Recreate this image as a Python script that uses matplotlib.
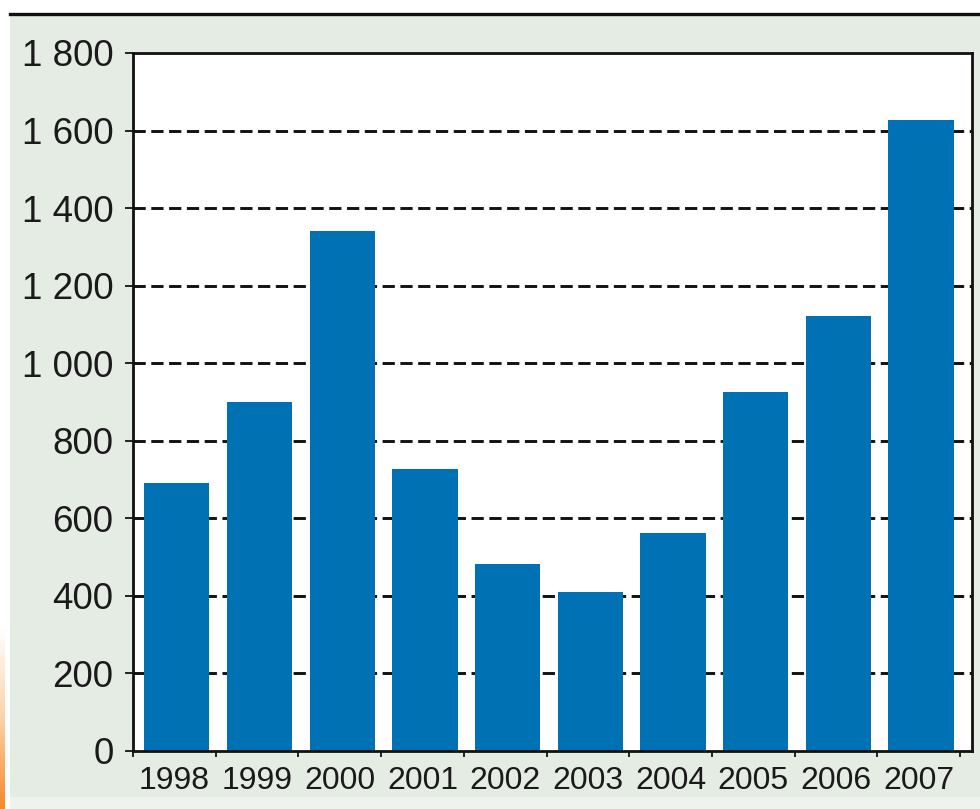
import numpy as np
import matplotlib.pyplot as plt
from matplotlib.patches import Rectangle
from matplotlib.lines import Line2D
from matplotlib.colors import LinearSegmentedColormap

# --- DATA ---
years = ['1998', '1999', '2000', '2001', '2002', '2003', '2004', '2005', '2006', '2007']
values = [690, 899, 1340, 728, 483, 411, 563, 925, 1123, 1627]
y_ticks = [0, 200, 400, 600, 800, 1000, 1200, 1400, 1600, 1800]
y_labels = ['0', '200', '400', '600', '800', '1 000', '1 200', '1 400', '1 600', '1 800']

W, H = 980, 809
fig = plt.figure(figsize=(W / 100, H / 100), dpi=100, facecolor='white')

# --- BACKGROUND PANEL ---
fig.patches.append(Rectangle((10 / W, 0), 970 / W, (H - 15) / H, transform=fig.transFigure,
                             facecolor='#eef3ed', edgecolor='none', zorder=-2))
fig.patches.append(Rectangle((10 / W, 12 / H), 970 / W, (H - 27) / H, transform=fig.transFigure,
                             facecolor='#e5ece4', edgecolor='none', zorder=-2))
fig.lines.append(Line2D([10 / W, 1.0], [1 - 13.5 / H, 1 - 13.5 / H], transform=fig.transFigure,
                        color='#111111', linewidth=2.4, zorder=-1))

# orange strip on the left edge
strip = fig.add_axes([0, 0, 4 / W, 180 / H])
strip.axis('off')
grad = np.linspace(0, 1, 256).reshape(-1, 1)
orange = LinearSegmentedColormap.from_list('strip', ['#f5882a', '#fbd2a8', '#ffffff'])
strip.imshow(grad, aspect='auto', cmap=orange, origin='lower')

# --- CHART ---
ax = fig.add_axes([133 / W, 58 / H, 839 / W, 698 / H])
ax.set_zorder(2)
ax.set_facecolor('white')

x = np.arange(len(years))
ax.bar(x + 0.03, values, width=0.79, color='#0071b3', zorder=2)

ax.set_ylim(0, 1800)
ax.set_xlim(-0.5, 9.645)

ax.set_yticks(y_ticks)
ax.set_yticklabels(y_labels, fontsize=26.5, fontfamily='Liberation Sans', color='#1a1a1a')
ax.tick_params(axis='y', direction='out', length=6, width=1.2, pad=8)

# ticks at category boundaries, labels at centers
ax.set_xticks(np.arange(-0.5, 10, 1))
ax.set_xticklabels([])
ax.tick_params(axis='x', which='major', direction='out', length=4, width=1.2)
ax.set_xticks(x, minor=True)
ax.set_xticklabels(years, minor=True, fontsize=23, fontfamily='Liberation Sans', color='#1a1a1a')
ax.tick_params(axis='x', which='minor', length=0, pad=11)

# dashed gridlines
for v in y_ticks[1:-1]:
    ax.axhline(v, color='#111111', linewidth=2.1, dashes=(4.2, 1.9), zorder=1)

for s in ax.spines.values():
    s.set_linewidth(2.0)
    s.set_color('#111111')

fig.savefig('out.png', dpi=100, facecolor=fig.get_facecolor())
